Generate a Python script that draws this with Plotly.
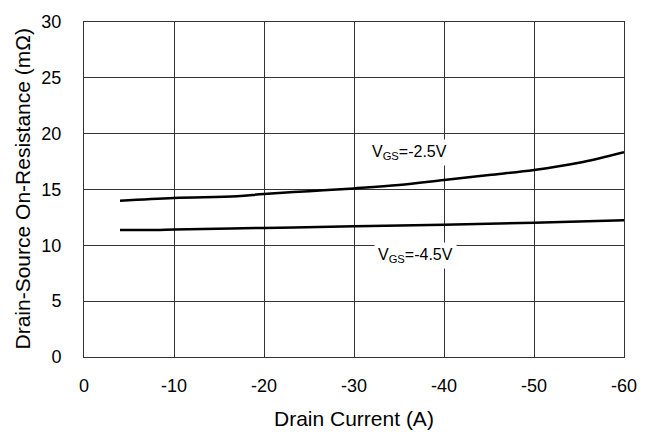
import plotly.graph_objects as go

# Drain current (A) and on-resistance (mOhm)
id_25 = [-4, -10, -17, -20, -25, -30, -35, -40, -45, -50, -55, -60]
r_25 = [14.0, 14.25, 14.4, 14.6, 14.85, 15.1, 15.4, 15.85, 16.3, 16.75, 17.4, 18.35]
id_45 = [-4, -8, -10, -20, -30, -40, -50, -60]
r_45 = [11.38, 11.38, 11.42, 11.56, 11.7, 11.85, 12.03, 12.25]
x_ticks = [0, -10, -20, -30, -40, -50, -60]
y_ticks = [0, 5, 10, 15, 20, 25, 30]
x_title = "Drain Current (A)"
y_title = "Drain-Source On-Resistance (mΩ)"

FAM = "Liberation Sans, Arial"

fig = go.Figure()
fig.add_trace(go.Scatter(x=id_25, y=r_25, mode="lines", line=dict(color="black", width=2.5, shape="spline"), showlegend=False))
fig.add_trace(go.Scatter(x=id_45, y=r_45, mode="lines", line=dict(color="black", width=2.5, shape="spline"), showlegend=False))

tick_font = dict(family=FAM, size=18, color="black")
fig.update_layout(
    width=658, height=434,
    margin=dict(l=84, r=34, t=13, b=77),
    paper_bgcolor="white", plot_bgcolor="white",
    font=dict(family=FAM, size=18, color="black"),
    xaxis=dict(range=[0, -60], tickvals=x_ticks, ticktext=[str(v) for v in x_ticks],
               showgrid=True, gridcolor="#333333", gridwidth=1, zeroline=False,
               showline=True, linecolor="#333333", linewidth=1, mirror=True,
               ticks="", ticklabelstandoff=12, tickfont=tick_font),
    yaxis=dict(range=[0, 30], tickvals=y_ticks,
               showgrid=True, gridcolor="#333333", gridwidth=1, zeroline=False,
               showline=True, linecolor="#333333", linewidth=1, mirror=True,
               ticks="", ticklabelstandoff=18, tickfont=tick_font),
)
title_font = dict(family=FAM, size=21, color="black")
fig.add_annotation(xref="paper", yref="paper", x=0.5, y=0, yshift=-61, yanchor="middle",
                   text=x_title, showarrow=False, font=title_font)
fig.add_annotation(xref="paper", yref="paper", x=0, y=0.5, xshift=-62, xanchor="center",
                   yanchor="middle", textangle=-90, text=y_title, showarrow=False,
                   font=title_font)

ann_font = dict(family=FAM, size=16, color="black")
fig.add_annotation(x=-36.2, y=18.33, text="V<sub>GS</sub>=-2.5V", showarrow=False,
                   bgcolor="white", font=ann_font, borderpad=3)
fig.add_annotation(x=-36.8, y=9.05, text="V<sub>GS</sub>=-4.5V", showarrow=False,
                   bgcolor="white", font=ann_font, borderpad=3)

fig.write_html("out.html")
